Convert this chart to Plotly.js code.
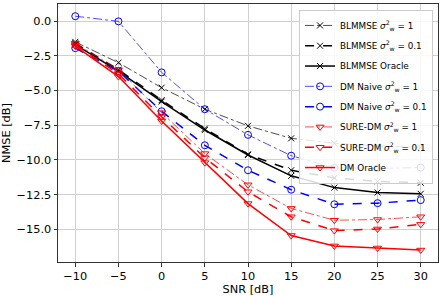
<!DOCTYPE html>
<html><head><meta charset="utf-8">
<script src="https://cdn.plot.ly/plotly-3.0.1.min.js"></script>
<style>body{margin:0;background:#fff}#c{width:443px;height:296px}</style>
</head><body><div id="c"></div>
<script>
const snr = [-10, -5, 0, 5, 10, 15, 20, 25, 30];
const blmmse1   = [-1.5, -3.0, -4.8, -6.35, -7.55, -8.45, -8.8, -9.0, -9.1];
const blmmse01  = [-1.6, -3.5, -5.7, -7.75, -9.6, -10.75, -11.3, -11.55, -11.65];
const blmmseOr  = [-1.7, -3.6, -5.8, -7.85, -9.65, -11.15, -12.0, -12.35, -12.45];
const dmNaive1  = [0.35, -0.02, -3.7, -6.35, -8.2, -9.7, -10.58, -10.62, -10.55];
const dmNaive01 = [-1.95, -3.6, -6.5, -8.95, -10.75, -12.15, -13.2, -13.12, -12.9];
const sure1     = [-1.6, -3.5, -6.6, -9.55, -11.8, -13.5, -14.35, -14.3, -14.1];
const sure01    = [-1.7, -3.8, -6.9, -9.85, -12.3, -14.1, -15.1, -14.98, -14.65];
const dmOracle  = [-1.8, -4.0, -7.2, -10.2, -13.15, -15.45, -16.2, -16.35, -16.5];
const names = [
  'BLMMSE <i>σ</i><sup>2</sup><sub>w</sub> = 1',
  'BLMMSE <i>σ</i><sup>2</sup><sub>w</sub> = 0.1',
  'BLMMSE Oracle',
  'DM Naive <i>σ</i><sup>2</sup><sub>w</sub> = 1',
  'DM Naive <i>σ</i><sup>2</sup><sub>w</sub> = 0.1',
  'SURE-DM <i>σ</i><sup>2</sup><sub>w</sub> = 1',
  'SURE-DM <i>σ</i><sup>2</sup><sub>w</sub> = 0.1',
  'DM Oracle'
];
const FAM = 'DejaVu Sans, sans-serif';
const series = [blmmse1, blmmse01, blmmseOr, dmNaive1, dmNaive01, sure1, sure01, dmOracle];
const colors = ['#000','#000','#000','#0000ff','#0000ff','#ff0000','#ff0000','#ff0000'];
const dashes = ['dashdot','dash','solid','dashdot','dash','dashdot','dash','solid'];
const widths = [0.7, 1.5, 1.5, 0.7, 1.5, 0.7, 1.5, 1.5];
const syms = ['x-thin-open','x-thin-open','x-thin-open','circle-open','circle-open','triangle-down-open','triangle-down-open','triangle-down-open'];
const traces = series.map((y,i)=>({
  x: snr, y: y, name: names[i], type:'scatter', mode:'lines+markers', legendgroup:'g'+i,
  line:{color:colors[i], dash:dashes[i], width:widths[i]},
  marker:{symbol:syms[i], size:(i<3?6:7), color:colors[i], line:{color:colors[i], width:1}}
}));
const layout = {
  width:443, height:296,
  margin:{l:58, r:5, t:4, b:34},
  paper_bgcolor:'#fff', plot_bgcolor:'#fff',
  font:{family:FAM, size:11.3, color:'#000'},
  xaxis:{range:[-12,32], tickvals:[-10,-5,0,5,10,15,20,25,30], ticktext:['−10','−5','0','5','10','15','20','25','30'],
    tickfont:{family:FAM, size:11.3, color:'#000'},
    showgrid:true, gridcolor:'#d0d0d0', gridwidth:1, zeroline:false,
    showline:true, linecolor:'#333', linewidth:1, mirror:true, ticks:'outside', ticklen:3.5, tickcolor:'#333',
    title:{text:'SNR [dB]', font:{family:FAM, size:11.3, color:'#000'}, standoff:2}},
  yaxis:{range:[-17.36,1.23], tickvals:[0,-2.5,-5,-7.5,-10,-12.5,-15], ticktext:['0.0','−2.5','−5.0','−7.5','−10.0','−12.5','−15.0'],
    tickfont:{family:FAM, size:11.3, color:'#000'},
    showgrid:true, gridcolor:'#d0d0d0', gridwidth:1, zeroline:false,
    showline:true, linecolor:'#333', linewidth:1, mirror:true, ticks:'outside', ticklen:3.5, tickcolor:'#333',
    title:{text:'NMSE [dB]', font:{family:FAM, size:11.3, color:'#000'}, standoff:4}},
  legend:{x:0.987, y:0.977, xanchor:'right', yanchor:'top', bgcolor:'rgba(255,255,255,0.85)',
    bordercolor:'#ccc', borderwidth:1, font:{family:FAM, size:8.8, color:'#000'}, tracegroupgap:1.3, itemwidth:30},
  showlegend:true
};
Plotly.newPlot('c', traces, layout, {staticPlot:true, displayModeBar:false});
</script></body></html>
